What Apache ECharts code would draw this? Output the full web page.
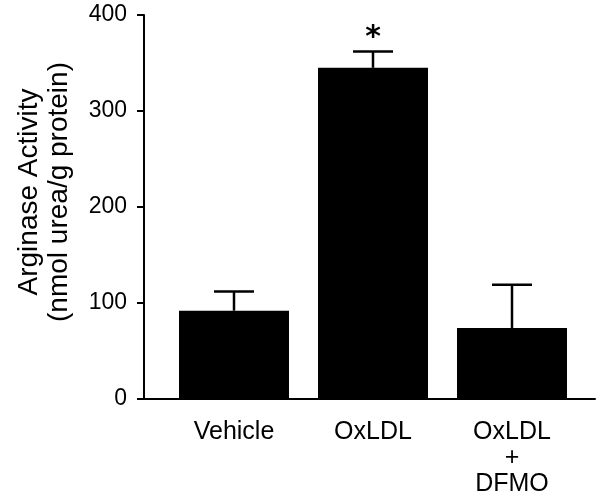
<!DOCTYPE html>
<html>
<head>
<meta charset="utf-8">
<script src="https://cdn.jsdelivr.net/npm/echarts@6/dist/echarts.min.js"></script>
<style>
  html, body { margin: 0; padding: 0; background: #fff; }
  #chart { width: 600px; height: 498px; }
</style>
</head>
<body>
<div id="chart"></div>
<script>
// 数据
const categories = ['Vehicle', 'OxLDL', 'OxLDL\n+\nDFMO'];
const means = [92, 345, 74];
const sems = [20, 17, 45];
const marks = ['', '*', ''];
const yMin = 0, yMax = 400, yStep = 100;

const font = 'Liberation Sans, Arial, Helvetica, sans-serif';
const chart = echarts.init(document.getElementById('chart'));

// error bar + significance mark
function renderErr(params, api) {
  const i = api.value(0);
  const base = api.coord([i, api.value(1)]);
  const top = api.coord([i, api.value(1) + api.value(2)]);
  const half = 20;
  const style = { stroke: '#000', lineWidth: 2.5 };
  const children = [
    { type: 'line', shape: { x1: base[0], y1: base[1], x2: top[0], y2: top[1] }, style },
    { type: 'line', shape: { x1: top[0] - half, y1: top[1], x2: top[0] + half, y2: top[1] }, style },
  ];
  if (marks[i]) {
    children.push({
      type: 'text',
      style: {
        text: marks[i], x: top[0], y: top[1] + 2,
        fill: '#000', font: 'bold 30px DejaVu Sans', align: 'center', verticalAlign: 'bottom'
      }
    });
  }
  return { type: 'group', children };
}

chart.setOption({
  animation: false,
  grid: [
    { left: 164.5, right: 18.5, top: 15, bottom: 99 },
    { left: 144, right: 5, top: 15, bottom: 99 },
  ],
  xAxis: [
    {
      type: 'category', gridIndex: 0, data: categories,
      axisLine: { show: false }, axisTick: { show: false },
      axisLabel: { margin: 20, fontSize: 25, lineHeight: 26, color: '#000', fontFamily: font },
    },
    {
      type: 'value', gridIndex: 1, min: 0, max: 1,
      axisLine: { lineStyle: { color: '#000', width: 2 } },
      axisTick: { show: false }, axisLabel: { show: false }, splitLine: { show: false },
    },
  ],
  yAxis: [
    { type: 'value', gridIndex: 0, min: yMin, max: yMax, show: false },
    {
      type: 'value', gridIndex: 1, min: yMin, max: yMax, interval: yStep,
      axisLine: { show: true, lineStyle: { color: '#000', width: 2 } },
      axisTick: { show: true, length: 7, lineStyle: { color: '#000', width: 2 } },
      axisLabel: { margin: 17, fontSize: 23, color: '#000', fontFamily: font },
      splitLine: { show: false },
      name: 'Arginase Activity\n(nmol urea/g protein)',
      nameLocation: 'middle', nameGap: 70,
      nameTextStyle: { fontSize: 28, lineHeight: 30, color: '#000', fontFamily: font, padding: [0, 0, 0, 30] },
    },
  ],
  series: [
    {
      type: 'bar', xAxisIndex: 0, yAxisIndex: 0,
      data: means, barWidth: 110,
      itemStyle: { color: '#000' },
    },
    {
      type: 'custom', xAxisIndex: 0, yAxisIndex: 0,
      renderItem: renderErr,
      data: means.map((m, i) => [i, m, sems[i]]),
      z: 3,
    },
  ],
});
</script>
</body>
</html>
